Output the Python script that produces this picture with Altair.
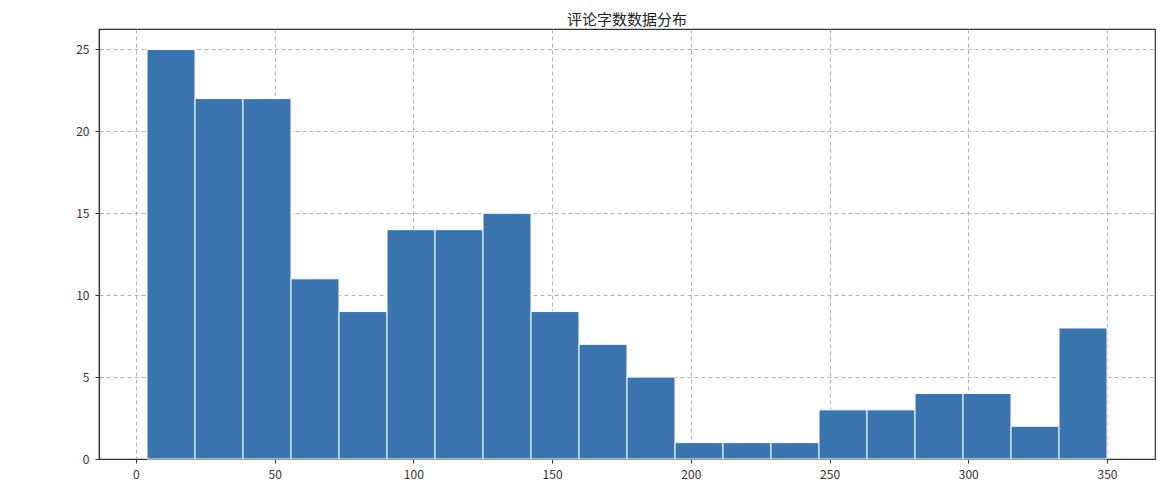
import altair as alt
import numpy as np
import pandas as pd

# Histogram of comment lengths: 20 equal bins between min and max length
min_len = 4.0
max_len = 350.0
counts = [25, 22, 22, 11, 9, 14, 14, 15, 9, 7, 5, 1, 1, 1, 3, 3, 4, 4, 2, 8]
x_ticks = [0, 50, 100, 150, 200, 250, 300, 350]
y_ticks = [0, 5, 10, 15, 20, 25]
title_text = "评论字数数据分布"

edges = np.linspace(min_len, max_len, len(counts) + 1)
df = pd.DataFrame({"start": edges[:-1], "end": edges[1:], "count": counts})

span = max_len - min_len
x_dom = [min_len - 0.05 * span, max_len + 0.05 * span]
y_dom = [0, max(counts) * 1.05]

font = "Noto Sans CJK SC"

chart = alt.Chart(df).mark_bar(
    color="#3a75af", stroke="white", strokeWidth=1
).encode(
    x=alt.X("start:Q", scale=alt.Scale(domain=x_dom, nice=False, zero=False, padding=0),
            axis=alt.Axis(values=x_ticks, title=None, grid=True)),
    x2="end:Q",
    y=alt.Y("count:Q", scale=alt.Scale(domain=y_dom, nice=False, padding=0),
            axis=alt.Axis(values=y_ticks, title=None, grid=True)),
    y2=alt.datum(0),
).properties(
    width=1056, height=430,
    title=alt.TitleParams(title_text, fontSize=15, font=font, fontWeight="normal",
                          color="#222222", offset=1),
    autosize=alt.AutoSizeParams(type="none"),
    padding={"left": 91, "top": 21, "right": 12, "bottom": 30},
).configure_axis(
    zindex=1,
    gridDash=[4, 3], gridColor="#b0b0b0", gridWidth=1, gridOpacity=1,
    domainColor="#333333", domainWidth=1.2,
    tickColor="#333333", tickSize=4, tickWidth=1,
    labelFont=font, labelFontSize=12, labelColor="#333333", labelPadding=6,
).configure_view(
    stroke="#333333", strokeWidth=1.2
)

chart.save("out.html", embed_options={"renderer": "svg", "actions": False})
